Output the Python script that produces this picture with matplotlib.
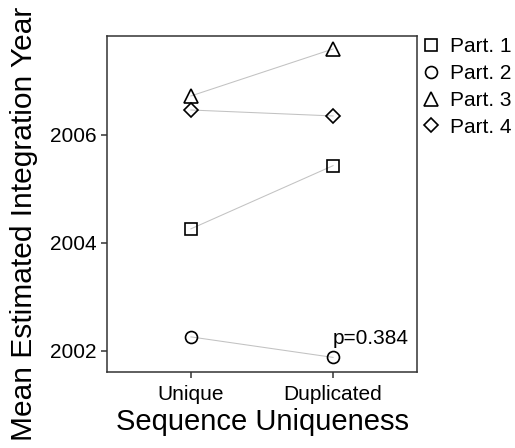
import numpy as np
import matplotlib
matplotlib.use("Agg")
import matplotlib.pyplot as plt
from matplotlib.lines import Line2D

plt.rcParams['font.family'] = ['Liberation Sans', 'DejaVu Sans']

# Datos
groups = ["Unique", "Duplicated"]
parts = ["Part. 1", "Part. 2", "Part. 3", "Part. 4"]
unique_year = [2004.26, 2002.26, 2006.72, 2006.46]
duplicated_year = [2005.43, 2001.88, 2007.59, 2006.35]
markers = ["s", "o", "^", "D"]
msizes = [8.0, 8.6, 10.0, 7.6]
p_label = "p=0.384"

fig = plt.figure(figsize=(5.15, 4.48), dpi=100)
ax = fig.add_axes([107/515, 76/448, 310/515, 336/448])

xs = np.arange(1, len(groups) + 1)
handles = []
for i in range(len(parts)):
    ys = [unique_year[i], duplicated_year[i]]
    ax.plot(xs, ys, color="#c2c2c2", linewidth=0.75, zorder=1)
    ax.plot(xs, ys, linestyle="none", marker=markers[i], markersize=msizes[i],
            markerfacecolor="none", markeredgecolor="black", markeredgewidth=1.2, zorder=2)
    handles.append(Line2D([], [], linestyle="none", marker=markers[i], markersize=msizes[i],
                          markerfacecolor="none", markeredgecolor="black", markeredgewidth=1.2,
                          label=parts[i]))

ax.text(2, 2002.13, p_label, fontsize=15, ha="left", va="baseline")

ax.set_xlim(0.41, 2.59)
ax.set_ylim(2001.61, 2007.83)
ax.set_xticks(xs)
ax.set_xticklabels(groups)
ax.set_yticks([2002, 2004, 2006])
ax.tick_params(labelsize=15, length=4.5, width=1.1, color="#333333")
ax.tick_params(axis="x", pad=5)
ax.tick_params(axis="y", pad=3)
for s in ax.spines.values():
    s.set_color("#333333")
    s.set_linewidth(1.1)

ax.set_xlabel("Sequence Uniqueness", fontsize=21, labelpad=3)
ax.set_ylabel("Mean Estimated Integration Year", fontsize=21.5)
ax.yaxis.set_label_coords(-0.222, (372 - 224) / 336)

ax.legend(handles=handles, loc="upper left", bbox_to_anchor=(423/515, 1 - 37/448),
          bbox_transform=fig.transFigure, frameon=False, fontsize=15,
          handlelength=0.8, handletextpad=0.5, labelspacing=0.38, borderpad=0, borderaxespad=0)

fig.savefig("out.png", dpi=100)
